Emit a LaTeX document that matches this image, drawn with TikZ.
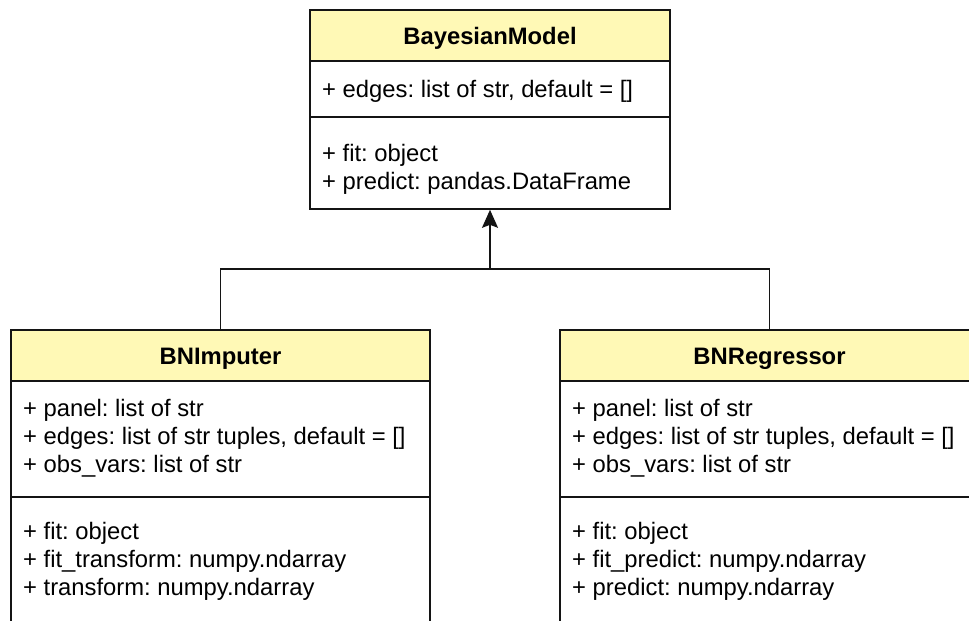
\documentclass[tikz,border=0pt]{standalone}
\usepackage{fontspec}
\setmainfont{Liberation Sans}
\frenchspacing
\usetikzlibrary{arrows.meta}
\definecolor{headfill}{RGB}{255,249,182}
\definecolor{edgecol}{RGB}{20,20,20}
\tikzset{
  x=1pt, y=-1pt,
  classbox/.style={draw=edgecol, line width=1.6pt, rectangle, inner sep=0pt},
  sepline/.style={draw=edgecol, line width=1.6pt},
  title/.style={anchor=base, inner sep=0pt, font=\fontsize{23.8}{28}\selectfont\bfseries},
  member/.style={anchor=base west, inner sep=0pt, font=\fontsize{23.8}{28}\selectfont},
  link/.style={draw=edgecol, line width=1.6pt},
}
\begin{document}
\begin{tikzpicture}
\useasboundingbox (0,0) rectangle (969,621);
\clip (0,0) rectangle (969,621);

% ---- BayesianModel ----
\fill[headfill] (310,10) rectangle (670,61);
\node[classbox, minimum width=360pt, minimum height=199pt] (bm) at (490,109.5) {};
\draw[sepline] (310,61) -- (670,61);
\draw[sepline] (310,117) -- (670,117);
\node[title] (bmt) at (490,44.5) {BayesianModel};
\node[member] (bma1) at (322,97.5) {+ edges: list of str, default = []};
\node[member] (bmm1) at (322,161) {+ fit: object};
\node[member] (bmm2) at (322,189) {+ predict: pandas.DataFrame};

% ---- BNImputer ----
\fill[headfill] (11,330) rectangle (430,381);
\node[classbox, minimum width=419pt, minimum height=320pt] (imp) at (220.5,490) {};
\draw[sepline] (11,381) -- (430,381);
\draw[sepline] (11,497) -- (430,497);
\node[title] (impt) at (220.5,364) {BNImputer};
\node[member] (impa1) at (23,416) {+ panel: list of str};
\node[member] (impa2) at (23,444) {+ edges: list of str tuples, default = []};
\node[member] (impa3) at (23,472) {+ obs\_vars: list of str};
\node[member] (impm1) at (23,539) {+ fit: object};
\node[member] (impm2) at (23,567) {+ fit\_transform: numpy.ndarray};
\node[member] (impm3) at (23,595) {+ transform: numpy.ndarray};

% ---- BNRegressor ----
\fill[headfill] (560,330) rectangle (979,381);
\node[classbox, minimum width=419pt, minimum height=320pt] (reg) at (769.5,490) {};
\draw[sepline] (560,381) -- (979,381);
\draw[sepline] (560,497) -- (979,497);
\node[title] (regt) at (769.5,364) {BNRegressor};
\node[member] (rega1) at (572,416) {+ panel: list of str};
\node[member] (rega2) at (572,444) {+ edges: list of str tuples, default = []};
\node[member] (rega3) at (572,472) {+ obs\_vars: list of str};
\node[member] (regm1) at (572,539) {+ fit: object};
\node[member] (regm2) at (572,567) {+ fit\_predict: numpy.ndarray};
\node[member] (regm3) at (572,595) {+ predict: numpy.ndarray};

% ---- generalisation connector ----
\coordinate (join) at (bm.south |- 0,269);
\draw[link] (imp.north) |- (join) -| (reg.north);
\draw[link, -{Stealth[length=18pt, width=16pt, inset=3pt]}] (join) -- (bm.south);
\end{tikzpicture}
\end{document}
